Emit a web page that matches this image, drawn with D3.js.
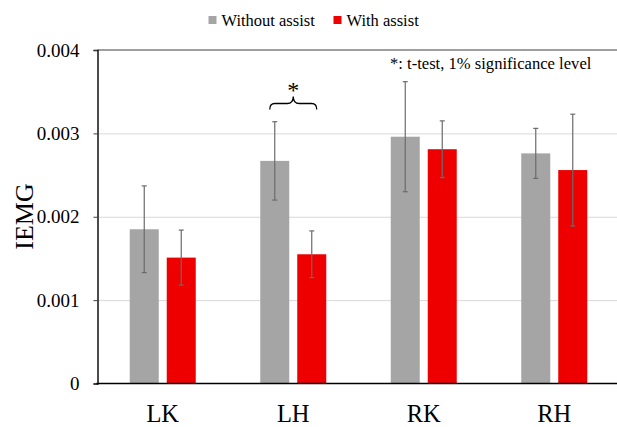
<!DOCTYPE html>
<html>
<head>
<meta charset="utf-8">
<script src="https://cdn.jsdelivr.net/npm/d3@7"></script>
<style>
  body { margin: 0; background: #fff; }
  text { font-family: "Liberation Serif", "Times New Roman", serif; fill: #000; }
</style>
</head>
<body>
<svg id="chart" width="617" height="427"></svg>
<script>
// data
var categories = ["LK", "LH", "RK", "RH"];
var seriesNames = ["Without assist", "With assist"];
var withoutAssist = [0.00185, 0.00267, 0.00296, 0.00276];
var withAssist = [0.00151, 0.00155, 0.00281, 0.00256];
var errWithout = [0.00052, 0.00047, 0.00066, 0.00030];
var errWith = [0.00033, 0.00028, 0.00034, 0.00067];
var yTicks = [0, 0.001, 0.002, 0.003, 0.004];
var yTickLabels = ["0", "0.001", "0.002", "0.003", "0.004"];
var significant = ["LH"];

var colors = ["#a5a5a5", "#ee0000"];
var svg = d3.select("#chart");

var plotLeft = 97.5, plotRight = 619.5, plotTop = 50, plotBottom = 383.5;

var xScale = d3.scaleBand().domain(categories).range([plotLeft, plotRight]);
var xInner = d3.scaleBand().domain(seriesNames).range([-33, 33]).paddingInner(0.216);
var yScale = d3.scaleLinear().domain([0, 0.004]).range([plotBottom, plotTop]);

// gridlines
svg.append("g")
  .attr("transform", "translate(" + plotLeft + ",0)")
  .call(d3.axisLeft(yScale).tickValues(yTicks.slice(1, 4)).tickSize(-(617 - plotLeft)).tickFormat(""))
  .call(g => g.select(".domain").remove())
  .selectAll("line").attr("stroke", "#d9d9d9").attr("stroke-width", 1);

// top border line
svg.append("line")
  .attr("x1", plotLeft).attr("x2", 617)
  .attr("y1", yScale(0.004)).attr("y2", yScale(0.004))
  .attr("stroke", "#7f7f7f").attr("stroke-width", 1.5);

// y axis with labels
var yAxis = svg.append("g")
  .attr("transform", "translate(" + plotLeft + ",0)")
  .call(d3.axisLeft(yScale).tickValues(yTicks).tickSize(4).tickPadding(14)
    .tickFormat((d, i) => yTickLabels[i]));
yAxis.attr("font-family", null).attr("font-size", null);
yAxis.select(".domain").attr("stroke", "#000").attr("stroke-width", 1.4);
yAxis.selectAll("line").attr("stroke", "#404040");
yAxis.selectAll("text")
  .style("font-family", "'Liberation Serif', serif")
  .style("font-size", "19px")
  .attr("fill", "#000");

// bars
var rows = [withoutAssist, withAssist];
var errs = [errWithout, errWith];
seriesNames.forEach((name, s) => {
  var data = categories.map((c, i) => ({cat: c, v: rows[s][i], e: errs[s][i]}));
  svg.append("g").selectAll("rect")
    .data(data).enter().append("rect")
    .attr("x", d => xScale(d.cat) + xScale.bandwidth() / 2 + xInner(name))
    .attr("y", d => yScale(d.v))
    .attr("width", xInner.bandwidth())
    .attr("height", d => yScale(0) - yScale(d.v))
    .attr("fill", colors[s]);

  var eb = svg.append("g").attr("stroke", "#6b6b6b").attr("stroke-width", 1.2);
  data.forEach(d => {
    var cx = xScale(d.cat) + xScale.bandwidth() / 2 + xInner(name) + xInner.bandwidth() / 2;
    eb.append("line").attr("x1", cx).attr("x2", cx)
      .attr("y1", yScale(d.v + d.e)).attr("y2", yScale(d.v - d.e));
    eb.append("line").attr("x1", cx - 2.5).attr("x2", cx + 2.5)
      .attr("y1", yScale(d.v + d.e)).attr("y2", yScale(d.v + d.e));
    eb.append("line").attr("x1", cx - 2.5).attr("x2", cx + 2.5)
      .attr("y1", yScale(d.v - d.e)).attr("y2", yScale(d.v - d.e));
  });
});

// x axis line
svg.append("line")
  .attr("x1", plotLeft - 1).attr("x2", 617)
  .attr("y1", plotBottom).attr("y2", plotBottom)
  .attr("stroke", "#000").attr("stroke-width", 1.5);

// category labels
svg.append("g").selectAll("text")
  .data(categories).enter().append("text")
  .attr("x", d => xScale(d) + xScale.bandwidth() / 2)
  .attr("y", 422)
  .attr("text-anchor", "middle")
  .attr("font-size", 24.5)
  .text(d => d);

// y title
svg.append("text")
  .attr("transform", "translate(33,216.5) rotate(-90)")
  .attr("text-anchor", "middle")
  .attr("font-size", 26)
  .text("IEMG");

// legend
var legendX = [208.5, 333.5];
seriesNames.forEach((name, s) => {
  svg.append("rect").attr("x", legendX[s]).attr("y", 16).attr("width", 8).attr("height", 8).attr("fill", colors[s]);
  svg.append("text").attr("x", legendX[s] + 13).attr("y", 26).attr("font-size", 16.5).text(name);
});

// note
svg.append("text")
  .attr("x", 390).attr("y", 69)
  .attr("font-size", 16.6)
  .text("*: t-test, 1% significance level");

// significance brace
significant.forEach(c => {
  var cx = xScale(c) + xScale.bandwidth() / 2;
  var w = 23.5, yb = 103.5;
  var p = d3.path();
  p.moveTo(cx - w, yb + 6);
  p.quadraticCurveTo(cx - w, yb, cx - w + 5, yb);
  p.lineTo(cx - 6, yb);
  p.quadraticCurveTo(cx, yb, cx, yb - 7);
  p.quadraticCurveTo(cx, yb, cx + 6, yb);
  p.lineTo(cx + w - 5, yb);
  p.quadraticCurveTo(cx + w, yb, cx + w, yb + 6);
  svg.append("path").attr("d", p.toString())
    .attr("fill", "none").attr("stroke", "#000").attr("stroke-width", 1.3);
  svg.append("text")
    .attr("x", cx).attr("y", 98)
    .attr("text-anchor", "middle")
    .attr("font-size", 24)
    .text("*");
});
</script>
</body>
</html>
